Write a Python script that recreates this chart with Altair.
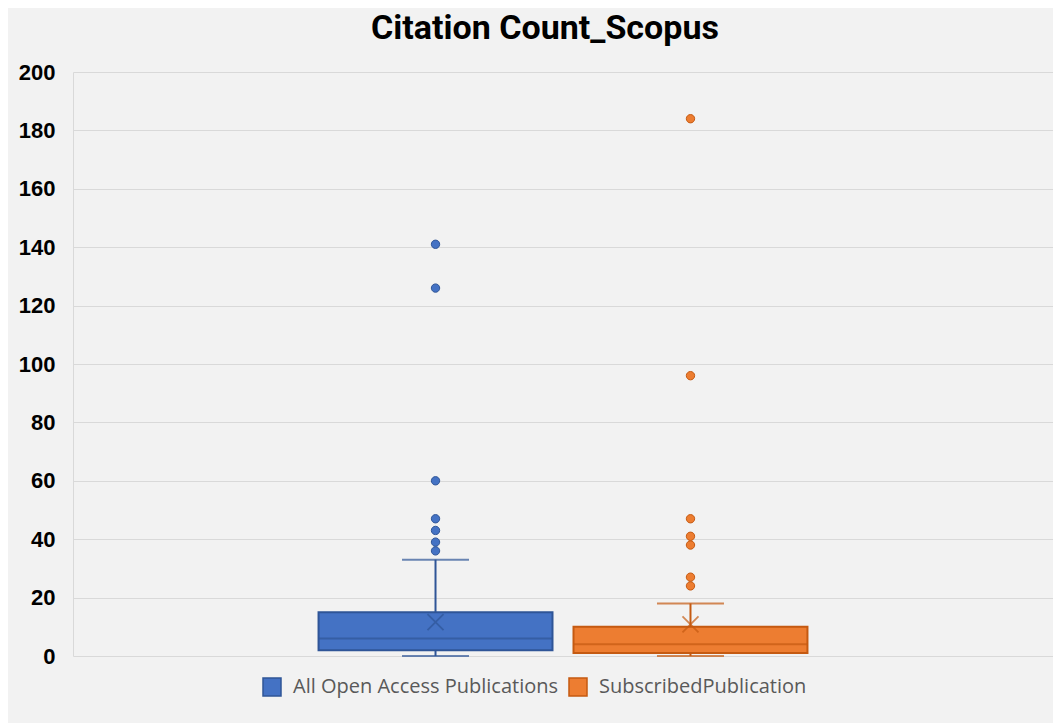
import altair as alt
import pandas as pd

series = ["All Open Access Publications", "SubscribedPublication"]
fill_colors = ["#4472C4", "#ED7D31"]
edge_colors = ["#2F5597", "#C55A11"]
whisker_low = [0, 0]
q1 = [2, 1]
median = [6, 4]
q3 = [15, 10]
whisker_high = [33, 18]
mean = [11.6, 10.8]
outliers_oa = [36, 39, 43, 47, 60, 126, 141]
outliers_sub = [24, 27, 38, 41, 47, 96, 184]

stats = pd.DataFrame({
    "series": series,
    "lo": whisker_low,
    "q1": q1,
    "med": median,
    "q3": q3,
    "hi": whisker_high,
    "mean": mean,
})
out = pd.DataFrame({
    "series": [series[0]] * len(outliers_oa) + [series[1]] * len(outliers_sub),
    "value": outliers_oa + outliers_sub,
})

xenc = alt.X("series:N", axis=None,
             scale=alt.Scale(domain=series, paddingInner=0.0824, paddingOuter=0.963))
yscale = alt.Scale(domain=[0, 200])
yaxis = alt.Axis(values=list(range(0, 201, 20)), title=None, labelFont="Liberation Sans",
                 labelFontWeight="bold", labelFontSize=22, labelColor="#000000",
                 labelPadding=18, ticks=False, domainColor="#D9D9D9", gridColor="#D9D9D9",
                 minExtent=60, maxExtent=60)
fill_scale = alt.Scale(domain=series, range=fill_colors)
edge_scale = alt.Scale(domain=series, range=edge_colors)
leg = alt.Legend(title=None, orient="none", legendX=189, legendY=605,
                 direction="horizontal", symbolType="square",
                 symbolSize=324, symbolStrokeWidth=1.5,
                 labelFont="Open Sans", labelFontSize=20, labelLimit=500,
                 labelColor="#595959", labelOffset=11,
                 columnPadding=7, padding=0)
fill = alt.Fill("series:N", scale=fill_scale, legend=leg)
stroke = alt.Stroke("series:N", scale=edge_scale, legend=leg)
tickcol = alt.Color("series:N", scale=edge_scale, legend=None)

base = alt.Chart(stats)
box = base.mark_bar(strokeWidth=2).encode(
    x=xenc, y=alt.Y("q1:Q", scale=yscale, axis=yaxis), y2="q3:Q", fill=fill, stroke=stroke)
whisk_lo = base.mark_rule(strokeWidth=2).encode(
    x=xenc, y=alt.Y("lo:Q", scale=yscale), y2="q1:Q", stroke=stroke)
whisk_hi = base.mark_rule(strokeWidth=2).encode(
    x=xenc, y=alt.Y("q3:Q", scale=yscale), y2="hi:Q", stroke=stroke)
caps_lo = base.mark_tick(size=67, thickness=2).encode(
    x=xenc, y=alt.Y("lo:Q", scale=yscale), color=tickcol)
caps_hi = base.mark_tick(size=67, thickness=2).encode(
    x=xenc, y=alt.Y("hi:Q", scale=yscale), color=tickcol)
med = base.mark_tick(size=234, thickness=2).encode(
    x=xenc, y=alt.Y("med:Q", scale=yscale), color=tickcol)
mn = base.mark_point(shape="M-1,-1L1,1M-1,1L1,-1", size=256, filled=False,
                     strokeWidth=1.8).encode(
    x=xenc, y=alt.Y("mean:Q", scale=yscale), color=tickcol)
pts = alt.Chart(out).mark_point(shape="circle", size=70, filled=True, opacity=1,
                                strokeWidth=1).encode(
    x=xenc, y=alt.Y("value:Q", scale=yscale), fill=fill, stroke=stroke)

chart = alt.layer(box, whisk_lo, whisk_hi, caps_lo, caps_hi, med, mn, pts).properties(
    width=980, height=584,
    padding={"left": 5, "top": 4, "right": 0, "bottom": 24},
    background="#F2F2F2",
    title=alt.TitleParams("Citation Count_Scopus", font="Roboto", fontSize=34,
                          fontWeight="bold", color="#000000", offset=15, dx=-18),
).configure_view(stroke=None, fill="#F2F2F2")

chart.save("out.html", embed_options={"renderer": "svg", "actions": False})
